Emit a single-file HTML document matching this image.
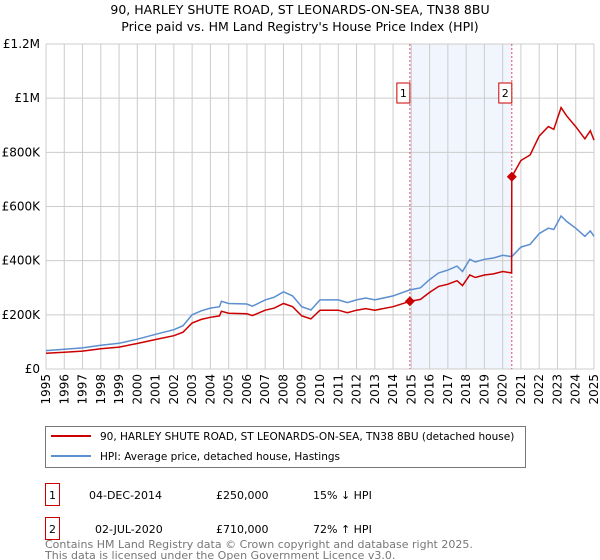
<!DOCTYPE html>
<html><head><meta charset="utf-8"><style>
body{margin:0;background:#fff;font-family:"Liberation Sans","DejaVu Sans",sans-serif;}
#wrap{position:relative;width:600px;height:560px;overflow:hidden;}
</style></head><body><div id="wrap">
<svg id="chart" width="600" height="560" style="position:absolute;left:0;top:0;font-family:'DejaVu Sans','Liberation Sans',sans-serif"></svg>
</div>
<script>
const years=[1995,1996,1997,1998,1999,2000,2001,2002,2002.5,2003,2003.5,2004,2004.5,2004.6,2005,2006,2006.3,2007,2007.5,2008,2008.5,2009,2009.5,2010,2011,2011.5,2012,2012.5,2013,2014,2014.92,2015.5,2016,2016.5,2017,2017.5,2017.8,2018.2,2018.5,2019,2019.5,2020,2020.5,2021,2021.5,2022,2022.5,2022.8,2023.2,2023.5,2024,2024.5,2024.8,2025];
const hpi=[68,73,78,88,95,110,128,145,160,200,215,225,230,250,242,240,232,255,265,285,270,230,218,255,255,245,255,262,255,270,292,300,330,355,365,380,360,405,395,405,410,420,415,450,460,500,520,515,565,545,520,490,510,490];
const redYears=[1995,1996,1997,1998,1999,2000,2001,2002,2002.5,2003,2003.5,2004,2004.5,2004.6,2005,2006,2006.3,2007,2007.5,2008,2008.5,2009,2009.5,2010,2011,2011.5,2012,2012.5,2013,2014,2014.92,2015.5,2016,2016.5,2017,2017.5,2017.8,2018.2,2018.5,2019,2019.5,2020,2020.49,2020.5,2021,2021.5,2022,2022.5,2022.8,2023.2,2023.5,2024,2024.5,2024.8,2025];
const red=[58,62,66,75,81,94,109,123,136,170,183,191,196,213,206,204,197,217,225,242,230,196,185,217,217,208,217,223,217,230,250,257,283,305,313,326,308,347,338,347,351,360,355,710,770,790,860,895,885,965,935,895,850,880,845];
const sales=[{n:"1",x:2014.92,v:250},{n:"2",x:2020.5,v:710}];
const yTicks=[0,200,400,600,800,1000,1200];
const yTickLabels=["£0","£200K","£400K","£600K","£800K","£1M","£1.2M"];
const xTicks=[1995,1996,1997,1998,1999,2000,2001,2002,2003,2004,2005,2006,2007,2008,2009,2010,2011,2012,2013,2014,2015,2016,2017,2018,2019,2020,2021,2022,2023,2024,2025];
const L=46,R=594,T=44,B=369;
const X=v=>L+(v-1995)/30*(R-L);
const Y=v=>B-v/1200*(B-T);
const svg=document.getElementById('chart');const NS="http://www.w3.org/2000/svg";
function mk(t,a,txt){const e=document.createElementNS(NS,t);for(const k in a)e.setAttribute(k,a[k]);if(txt!=null)e.textContent=txt;svg.appendChild(e);return e;}
let e;
e=mk('text',{x:300,y:14,'text-anchor':'middle','font-size':12.5,fill:'#000'},'90, HARLEY SHUTE ROAD, ST LEONARDS-ON-SEA, TN38 8BU');

e=mk('text',{x:300,y:31,'text-anchor':'middle','font-size':12.5,fill:'#000'},"Price paid vs. HM Land Registry's House Price Index (HPI)");

e=mk('rect',{x:X(2014.92),y:T,width:X(2020.5)-X(2014.92),height:B-T,fill:'#eef3fc',opacity:0.8});

xTicks.forEach(t=>{e=mk('line',{x1:X(t),x2:X(t),y1:T,y2:B,stroke:'#cccccc','stroke-width':1});

e=mk('text',{transform:`translate(${X(t)+4},${B+5}) rotate(-90)`,'text-anchor':'end','font-size':12,fill:'#000'},String(t));
});
yTicks.forEach((t,i)=>{e=mk('line',{x1:L,x2:R,y1:Y(t),y2:Y(t),stroke:'#cccccc','stroke-width':1});

e=mk('text',{x:L-6,y:Y(t)+4,'text-anchor':'end','font-size':12,fill:'#000'},yTickLabels[i]);
});
sales.forEach(s=>{e=mk('line',{x1:X(s.x),x2:X(s.x),y1:T,y2:B,stroke:'#e05050','stroke-width':1,'stroke-dasharray':'2,2'});

e=mk('rect',{x:X(s.x)-13,y:83,width:13,height:20,fill:'#fff',stroke:'#cc0000','stroke-width':1});

e=mk('text',{x:X(s.x)-6.5,y:97,'text-anchor':'middle','font-size':11},s.n);
});
e=mk('path',{d:years.map((y,i)=>(i?'L':'M')+X(y).toFixed(1)+','+Y(hpi[i]).toFixed(1)).join(''),fill:'none',stroke:'#5b8fd0','stroke-width':1.5});

e=mk('path',{d:redYears.map((y,i)=>(i?'L':'M')+X(y).toFixed(1)+','+Y(red[i]).toFixed(1)).join(''),fill:'none',stroke:'#cc0000','stroke-width':1.5});

sales.forEach(s=>{const cx=X(s.x),cy=Y(s.v);e=mk('path',{d:`M${cx},${cy-5}L${cx+5},${cy}L${cx},${cy+5}L${cx-5},${cy}Z`,fill:'#cc0000'});
});
e=mk('rect',{x:45.5,y:426.5,width:480,height:41,fill:'#fff',stroke:'#777','stroke-width':1});

e=mk('line',{x1:51,x2:91,y1:436,y2:436,stroke:'#cc0000','stroke-width':2});

e=mk('text',{x:100,y:440,'font-size':10.5},'90, HARLEY SHUTE ROAD, ST LEONARDS-ON-SEA, TN38 8BU (detached house)');

e=mk('line',{x1:51,x2:91,y1:456,y2:456,stroke:'#5b8fd0','stroke-width':2});

e=mk('text',{x:100,y:460,'font-size':10.5},'HPI: Average price, detached house, Hastings');

const rows=[["1","04-DEC-2014","£250,000","15% ↓ HPI",485],["2","02-JUL-2020","£710,000","72% ↑ HPI",519]];
rows.forEach(r=>{e=mk('rect',{x:45.5,y:r[4]-1.5,width:14,height:22,fill:'#fff',stroke:'#cc0000','stroke-width':1});

e=mk('text',{x:52.5,y:r[4]+14,'text-anchor':'middle','font-size':11},r[0]);

e=mk('text',{x:r[0]=="1"?89:95,y:r[4]+14,'font-size':11},r[1]);

e=mk('text',{x:216,y:r[4]+14,'font-size':11},r[2]);

e=mk('text',{x:313,y:r[4]+14,'font-size':11},r[3]);
});
e=mk('text',{x:45,y:548,'font-size':11,fill:'#777'},'Contains HM Land Registry data © Crown copyright and database right 2025.');

e=mk('text',{x:45,y:559,'font-size':11,fill:'#777'},'This data is licensed under the Open Government Licence v3.0.');

</script></body></html>
